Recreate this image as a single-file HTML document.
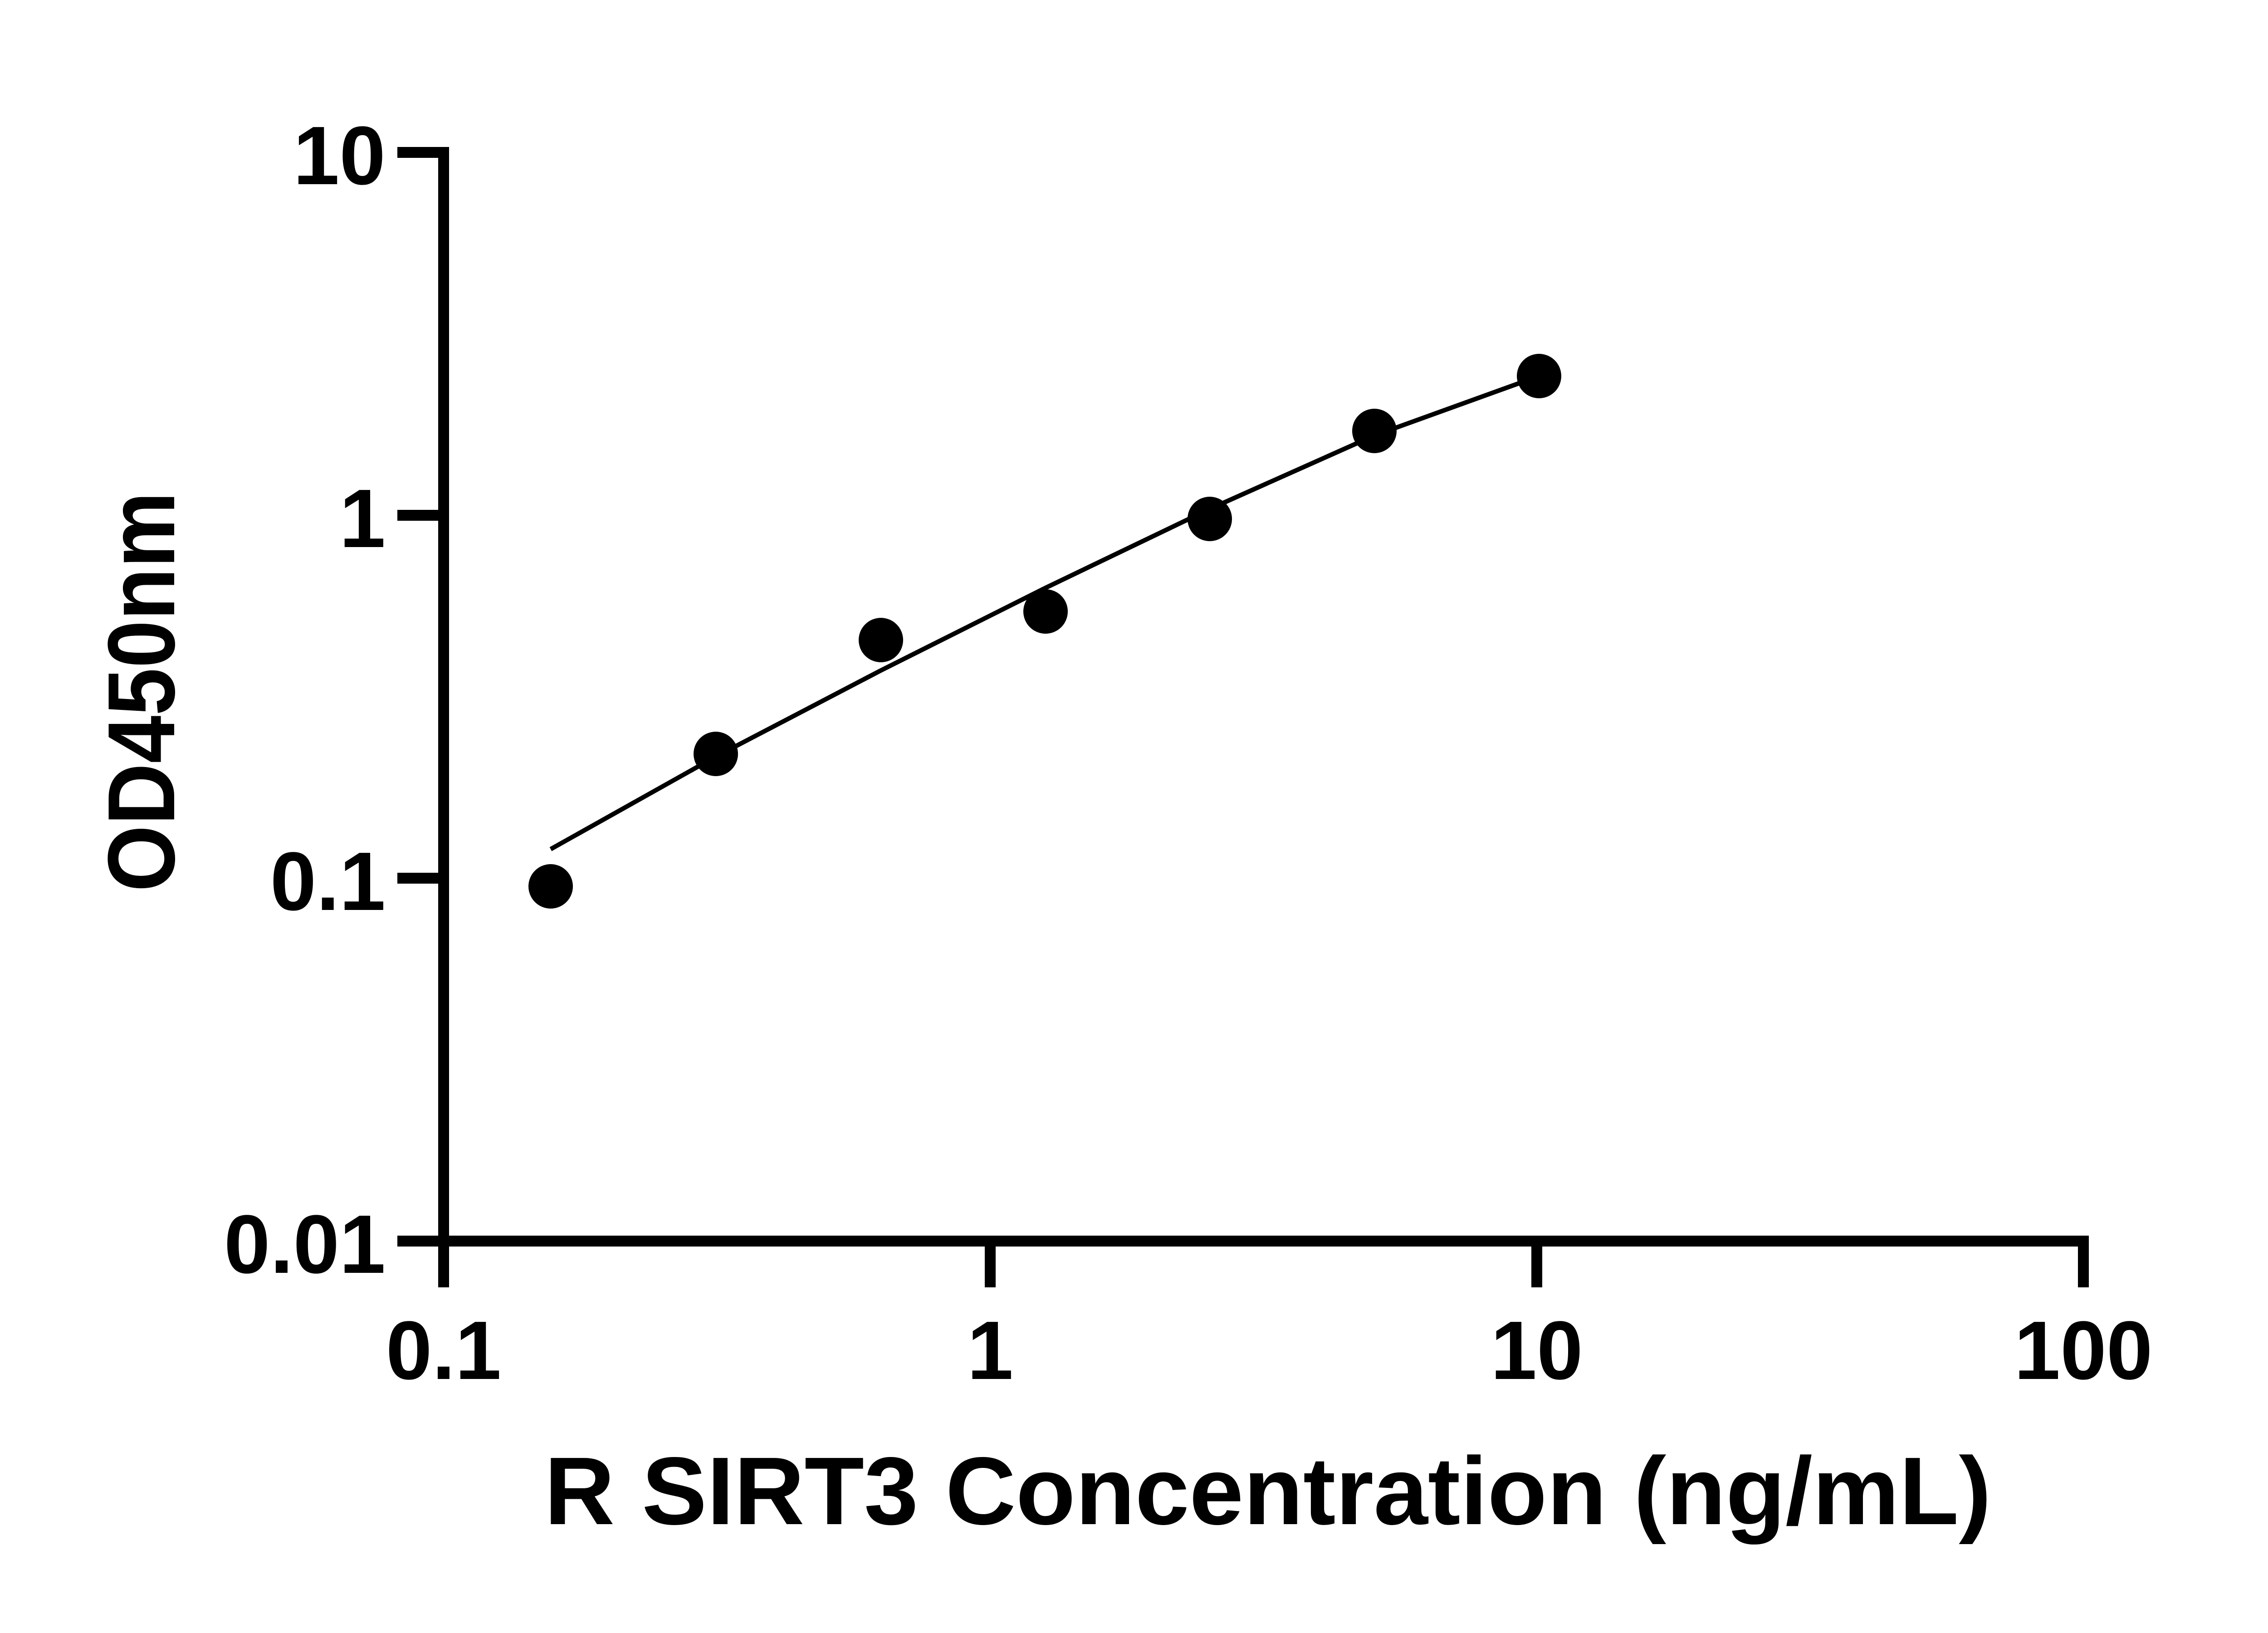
<!DOCTYPE html>
<html><head><meta charset="utf-8"><style>html,body{margin:0;padding:0;background:#fff}svg{display:block}</style></head>
<body>
<svg width="5130" height="3600" viewBox="0 0 5130 3600" xmlns="http://www.w3.org/2000/svg">
<rect width="5130" height="3600" fill="#fff"/>
<g stroke="#000" stroke-width="24" fill="none" stroke-linecap="butt">
<path d="M876 336 H978 V2736 H4597"/>
<line x1="876" y1="1136" x2="978" y2="1136"/>
<line x1="876" y1="1936" x2="978" y2="1936"/>
<line x1="876" y1="2736" x2="978" y2="2736"/>
<line x1="978" y1="2736" x2="978" y2="2838"/>
<line x1="2183" y1="2736" x2="2183" y2="2838"/>
<line x1="3388" y1="2736" x2="3388" y2="2838"/>
<line x1="4593" y1="2724" x2="4593" y2="2838"/>
</g>
<g font-family="Liberation Sans, Arial, sans-serif" font-weight="bold" font-size="183" fill="#000">
<g text-anchor="end">
<text x="850" y="406">10</text>
<text x="850" y="1206">1</text>
<text x="850" y="2006">0.1</text>
<text x="850" y="2806">0.01</text>
</g>
<g text-anchor="middle">
<text x="978" y="3040">0.1</text>
<text x="2183" y="3040">1</text>
<text x="3388" y="3040">10</text>
<text x="4593" y="3040">100</text>
</g>
</g>
<text x="1200" y="3360" font-family="Liberation Sans, Arial, sans-serif" font-weight="bold" font-size="212" textLength="3190" lengthAdjust="spacingAndGlyphs">R SIRT3 Concentration (ng/mL)</text>
<text transform="translate(384,1966) rotate(-90)" font-family="Liberation Sans, Arial, sans-serif" font-weight="bold" font-size="210" textLength="882" lengthAdjust="spacingAndGlyphs">OD450nm</text>
<path d="M1214 1872 L1578 1668 L1942 1478 L2305 1296 L2667 1122 L3030 960 L3393 829" stroke="#000" stroke-width="10" fill="none" stroke-linejoin="round"/>
<g fill="#000">
<circle cx="1214" cy="1954" r="49"/>
<circle cx="1578" cy="1662" r="49"/>
<circle cx="1942" cy="1411" r="49"/>
<circle cx="2305" cy="1348" r="49"/>
<circle cx="2667" cy="1144" r="49"/>
<circle cx="3030" cy="950" r="49"/>
<circle cx="3393" cy="829" r="49"/>
</g>
</svg>
</body></html>
